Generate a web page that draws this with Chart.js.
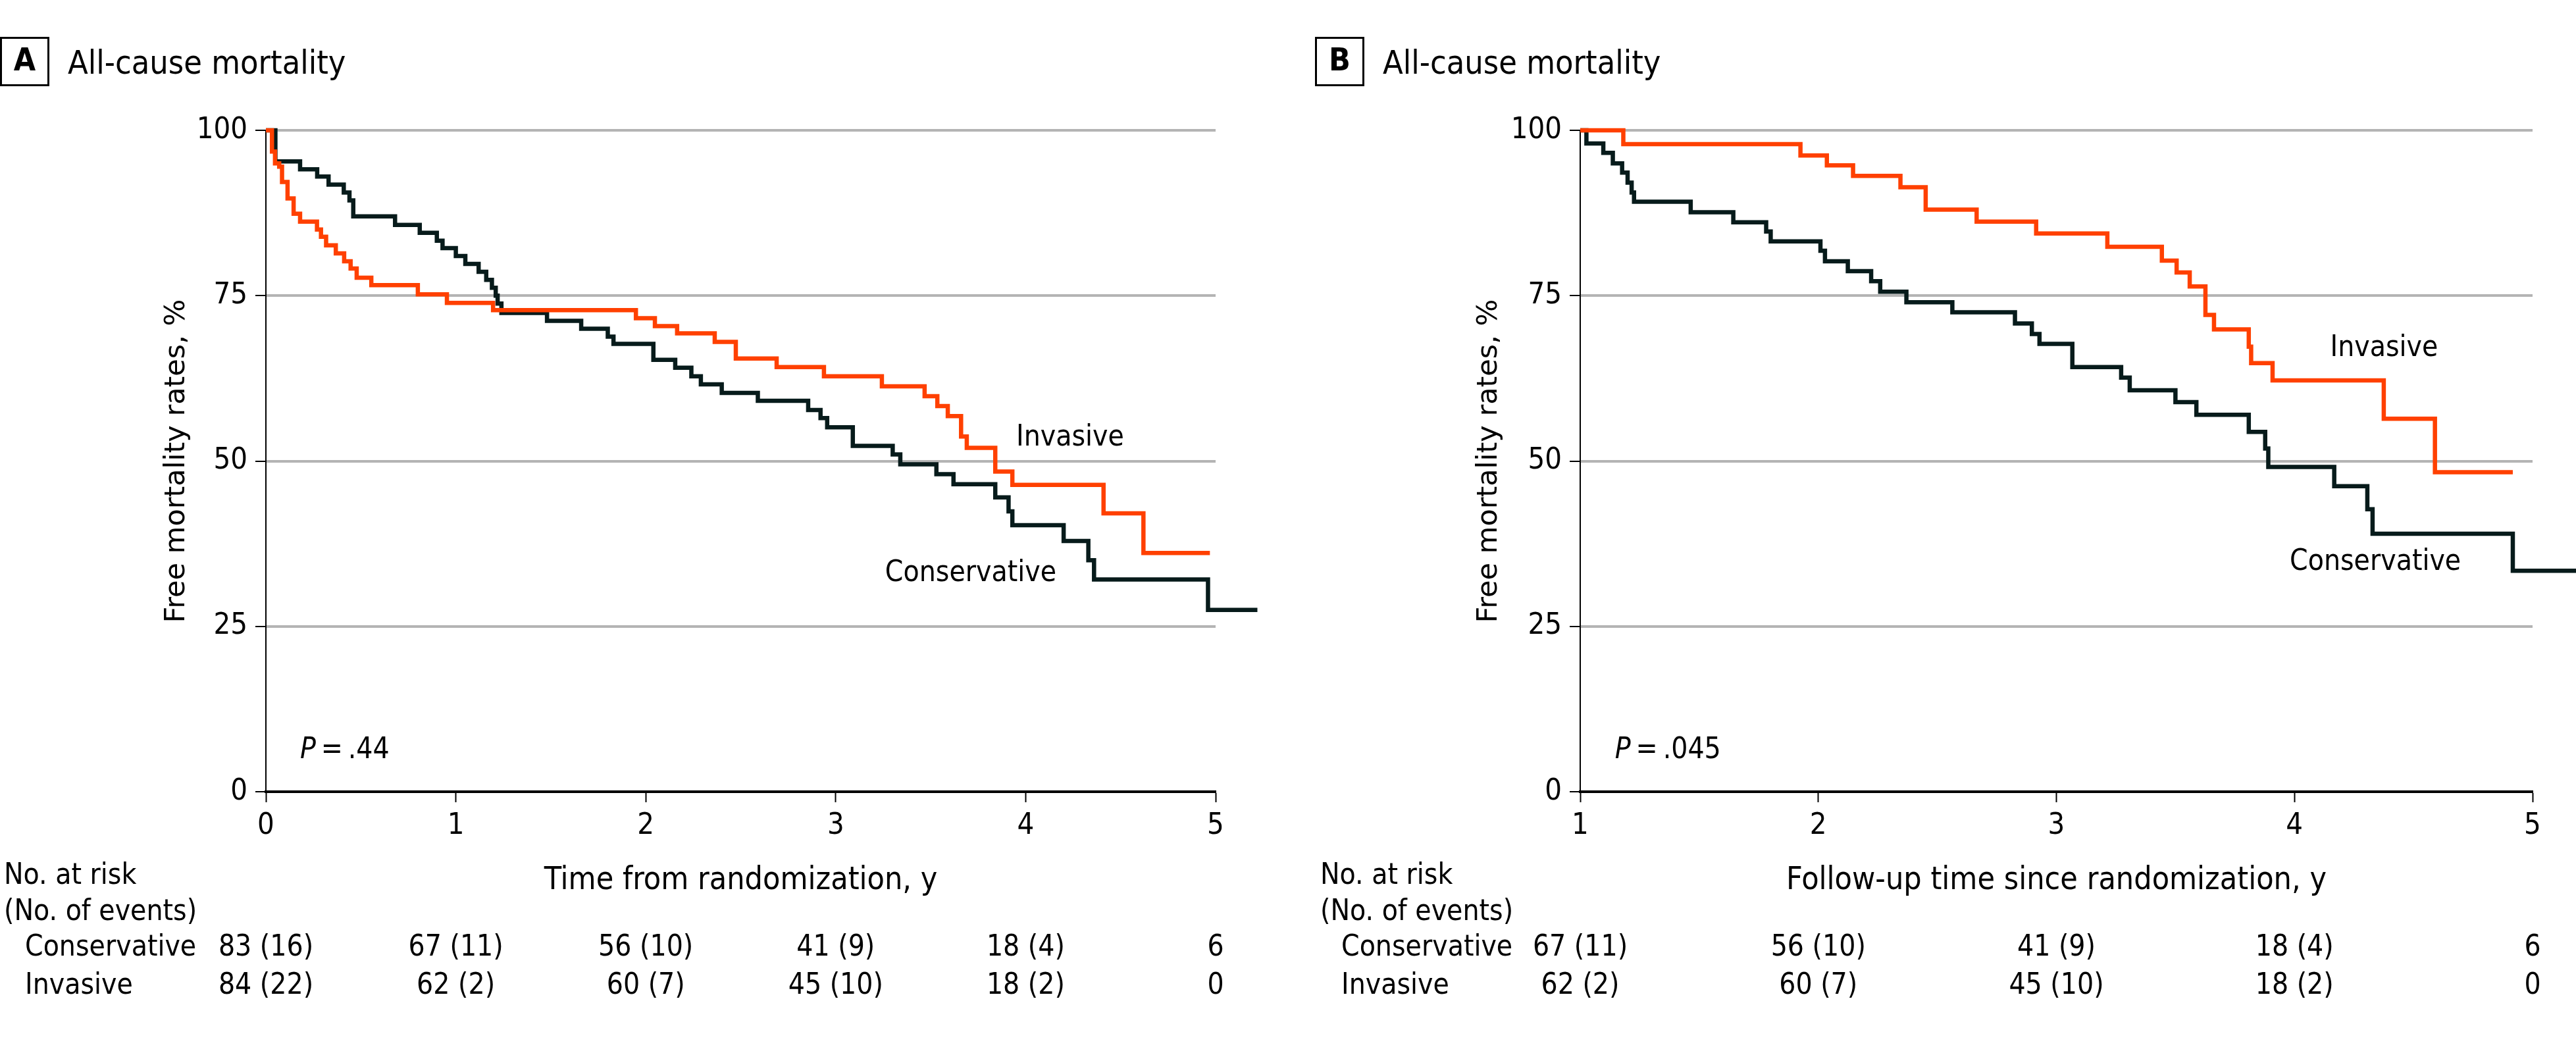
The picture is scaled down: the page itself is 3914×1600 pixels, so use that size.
<!DOCTYPE html>
<html><head><meta charset="utf-8">
<script src="https://cdn.jsdelivr.net/npm/chart.js@4.4.1/dist/chart.umd.min.js"></script>
<style>
html,body{margin:0;padding:0;background:#fff;}
#wrap{position:relative;width:3914px;height:1600px;overflow:hidden;background:#fff;}
canvas{position:absolute;top:0;}
#cA{left:0}
#cB{left:1957px}
</style></head><body>
<div id="wrap"><canvas id="cA" width="1957" height="1600"></canvas><canvas id="cB" width="1957" height="1600"></canvas></div>
<script>
// ---------- DATA ----------
// Panel A: time from randomization (years) and event-free survival (%)
const consA_t = [0, 0.05, 0.18, 0.27, 0.33, 0.41, 0.44, 0.46, 0.68, 0.81, 0.90, 0.93, 1.00, 1.05, 1.12, 1.16, 1.19, 1.21, 1.22, 1.24, 1.48, 1.66, 1.80, 1.83, 2.04, 2.155, 2.24, 2.29, 2.40, 2.59, 2.855, 2.92, 2.955, 3.09, 3.30, 3.34, 3.53, 3.62, 3.84, 3.91, 3.93, 4.20, 4.33, 4.36, 4.96, 5.22];
const consA_s = [100, 95.3, 94.1, 93.0, 91.8, 90.6, 89.4, 87.0, 85.7, 84.5, 83.3, 82.2, 81.0, 79.8, 78.6, 77.4, 76.2, 75.0, 73.8, 72.4, 71.2, 70.0, 68.8, 67.7, 65.3, 64.1, 62.8, 61.6, 60.3, 59.1, 57.7, 56.5, 55.1, 52.3, 51.0, 49.5, 48.0, 46.5, 44.5, 42.4, 40.3, 37.9, 35.0, 32.1, 27.5, 27.5];
const invA_t = [0, 0.032, 0.048, 0.07, 0.085, 0.114, 0.146, 0.18, 0.269, 0.29, 0.317, 0.368, 0.412, 0.446, 0.478, 0.555, 0.80, 0.953, 1.196, 1.948, 2.048, 2.165, 2.363, 2.474, 2.689, 2.938, 3.243, 3.468, 3.535, 3.59, 3.66, 3.69, 3.84, 3.93, 4.41, 4.62, 4.97];
const invA_s = [100, 96.8, 95.0, 94.5, 92.2, 89.7, 87.4, 86.2, 85.0, 83.9, 82.6, 81.4, 80.2, 79.1, 77.7, 76.6, 75.2, 73.9, 72.8, 71.6, 70.4, 69.3, 68.0, 65.5, 64.2, 62.8, 61.3, 59.8, 58.3, 56.8, 53.7, 52.0, 48.4, 46.4, 42.1, 36.1, 36.1];

// Panel B: follow-up time since randomization (years)
const consB_t = [1, 1.026, 1.097, 1.137, 1.176, 1.199, 1.216, 1.226, 1.464, 1.643, 1.781, 1.80, 2.009, 2.028, 2.124, 2.222, 2.26, 2.37, 2.563, 2.826, 2.897, 2.929, 3.067, 3.272, 3.308, 3.50, 3.588, 3.808, 3.877, 3.89, 4.167, 4.306, 4.328, 4.917, 5.2];
const consB_s = [100, 98.0, 96.6, 95.0, 93.6, 92.1, 90.6, 89.2, 87.6, 86.1, 84.7, 83.2, 81.8, 80.2, 78.7, 77.2, 75.6, 74.0, 72.5, 70.8, 69.2, 67.7, 64.2, 62.6, 60.7, 58.9, 57.0, 54.4, 51.9, 49.1, 46.2, 42.7, 39.0, 33.4, 33.4];
const invB_t = [1, 1.181, 1.925, 2.036, 2.146, 2.345, 2.451, 2.665, 2.915, 3.214, 3.443, 3.505, 3.56, 3.626, 3.662, 3.808, 3.818, 3.908, 4.375, 4.59, 4.917];
const invB_s = [100, 97.9, 96.2, 94.7, 93.1, 91.4, 88.0, 86.2, 84.4, 82.4, 80.3, 78.5, 76.4, 72.1, 69.9, 67.3, 64.8, 62.2, 56.4, 48.3, 48.3];

// Axis ticks
const yTicks = [0, 25, 50, 75, 100];
const xTicksA = [0, 1, 2, 3, 4, 5];
const xTicksB = [1, 2, 3, 4, 5];

// Number at risk (No. of events)
const riskA_cons = ['83 (16)', '67 (11)', '56 (10)', '41 (9)', '18 (4)', '6'];
const riskA_inv  = ['84 (22)', '62 (2)', '60 (7)', '45 (10)', '18 (2)', '0'];
const riskB_cons = ['67 (11)', '56 (10)', '41 (9)', '18 (4)', '6'];
const riskB_inv  = ['62 (2)', '60 (7)', '45 (10)', '18 (2)', '0'];

// Text
const seriesNames = ['Invasive', 'Conservative'];
const panelTitle = 'All-cause mortality';
const yTitle = 'Free mortality rates, %';
const xTitleA = 'Time from randomization, y';
const xTitleB = 'Follow-up time since randomization, y';
const pValA = '.44';
const pValB = '.045';
// label anchors in data units [x, y]
const labelPosA = {inv: [3.95, 53.5], cons: [3.26, 33.0], p: [0.18, 6.2]};
const labelPosB = {inv: [4.15, 67.0], cons: [3.98, 34.7], p: [1.146, 6.2]};

// ---------- STYLE ----------
const ORANGE = '#ff4000';
const DARK = '#071b1b';
const NARROW = '"DejaVu Sans Condensed", "Liberation Sans Narrow", "Liberation Sans", sans-serif';
const WIDE = '"DejaVu Sans", Verdana, sans-serif';

function pts(t, s) { return t.map((v, i) => ({x: v, y: s[i]})); }

const annot = {
  id: 'annot',
  afterDraw(chart, args, o) {
    const {ctx} = chart;
    const xs = chart.scales.x, ys = chart.scales.y;
    ctx.save();
    ctx.fillStyle = '#000';
    // panel header
    ctx.strokeStyle = '#000';
    ctx.lineWidth = 3;
    ctx.strokeRect(o.boxX + 1.5, 57.5, 72, 72);
    ctx.font = 'bold 48px ' + NARROW;
    ctx.textAlign = 'center';
    ctx.textBaseline = 'middle';
    ctx.fillText(o.letter, o.boxX + 37.5, 95);
    ctx.font = '50px ' + NARROW;
    ctx.textAlign = 'left';
    ctx.textBaseline = 'alphabetic';
    ctx.fillText(panelTitle, o.boxX + 103, 112);
    // curve labels
    ctx.font = '44px ' + NARROW;
    ctx.textBaseline = 'middle';
    ctx.fillText(seriesNames[0], xs.getPixelForValue(o.pos.inv[0]), ys.getPixelForValue(o.pos.inv[1]));
    ctx.fillText(seriesNames[1], xs.getPixelForValue(o.pos.cons[0]), ys.getPixelForValue(o.pos.cons[1]));
    // p value
    let px = xs.getPixelForValue(o.pos.p[0]);
    const py = ys.getPixelForValue(o.pos.p[1]);
    ctx.font = 'italic 44px ' + NARROW;
    ctx.fillText('P', px, py);
    px += ctx.measureText('P').width;
    ctx.font = '44px ' + NARROW;
    ctx.fillText('\u2009=\u2009' + o.p, px, py);
    // number at risk table
    ctx.font = '44px ' + NARROW;
    ctx.fillText('No. at risk', o.tableX, 1332);
    ctx.fillText('(No. of events)', o.tableX, 1387);
    ctx.fillText(seriesNames[1], o.tableX + 32, 1441);
    ctx.fillText(seriesNames[0], o.tableX + 32, 1499);
    ctx.textAlign = 'center';
    o.ticks.forEach((t, i) => {
      const x = xs.getPixelForValue(t);
      ctx.fillText(o.cons[i], x, 1441);
      ctx.fillText(o.inv[i], x, 1499);
    });
    ctx.restore();
  }
};

function makeChart(id, cfg) {
  return new Chart(document.getElementById(id), {
    type: 'line',
    data: {
      datasets: [
        {label: seriesNames[0], data: pts(cfg.invT, cfg.invS), borderColor: ORANGE, borderWidth: 6.5,
         stepped: 'before', pointRadius: 0, fill: false, clip: false, borderCapStyle: 'butt', borderJoinStyle: 'miter'},
        {label: seriesNames[1], data: pts(cfg.consT, cfg.consS), borderColor: DARK, borderWidth: 6.5,
         stepped: 'before', pointRadius: 0, fill: false, clip: false, borderCapStyle: 'butt', borderJoinStyle: 'miter'}
      ]
    },
    options: {
      responsive: false,
      animation: false,
      devicePixelRatio: 1,
      layout: {padding: {left: 0, top: 198, right: cfg.padRight, bottom: 0}},
      plugins: {
        legend: {display: false},
        tooltip: {enabled: false},
        annot: cfg.annot
      },
      scales: {
        x: {
          type: 'linear',
          min: cfg.xTicks[0], max: cfg.xTicks[cfg.xTicks.length - 1],
          afterBuildTicks: s => { s.ticks = cfg.xTicks.map(v => ({value: v})); },
          afterFit: s => { s.height = 397; },
          grid: {drawOnChartArea: false, drawTicks: true, tickLength: 16, tickColor: '#000', tickWidth: 2},
          border: {display: true, color: '#000', width: 4},
          ticks: {color: '#000', font: {family: NARROW, size: 45}, padding: 9, maxRotation: 0, autoSkip: false},
          title: {display: true, text: cfg.xTitle, color: '#000', font: {family: NARROW, size: 48}, padding: {top: 0, bottom: 233}}
        },
        y: {
          type: 'linear',
          min: 0, max: 100,
          afterBuildTicks: s => { s.ticks = yTicks.map(v => ({value: v})); },
          afterFit: s => { s.width = cfg.yWidth; },
          grid: {
            color: c => (c.tick && c.tick.value === 0) ? 'rgba(0,0,0,0)' : '#b4b4b4',
            lineWidth: 4, drawTicks: true, tickLength: 16, tickColor: '#000', tickWidth: 2
          },
          border: {display: true, color: '#000', width: 2},
          ticks: {color: '#000', font: {family: NARROW, size: 45}, padding: 12},
          title: {display: true, text: yTitle, color: '#000', font: {family: WIDE, size: 43}, padding: {top: cfg.yTitlePad, bottom: 0}}
        }
      }
    },
    plugins: [annot]
  });
}

makeChart('cA', {
  invT: invA_t, invS: invA_s, consT: consA_t, consS: consA_s,
  xTicks: xTicksA, xTitle: xTitleA, padRight: 110, yWidth: 404, yTitlePad: 243,
  annot: {letter: 'A', boxX: 0, pos: labelPosA, p: pValA, tableX: 6, ticks: xTicksA, cons: riskA_cons, inv: riskA_inv}
});
makeChart('cB', {
  invT: invB_t, invS: invB_s, consT: consB_t, consS: consB_s,
  xTicks: xTicksB, xTitle: xTitleB, padRight: 66, yWidth: 444, yTitlePad: 280,
  annot: {letter: 'B', boxX: 41, pos: labelPosB, p: pValB, tableX: 49, ticks: xTicksB, cons: riskB_cons, inv: riskB_inv}
});
</script>
</body></html>
